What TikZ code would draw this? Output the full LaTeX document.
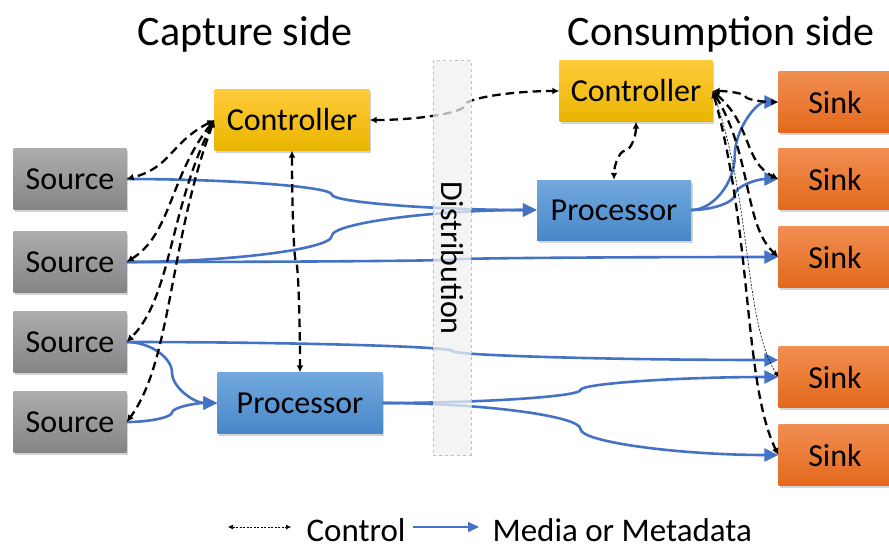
\documentclass[tikz,border=0pt]{standalone}
\usepackage{fontspec}
\setmainfont{Carlito}
\usetikzlibrary{arrows.meta,calc,shadows}

\definecolor{srctop}{HTML}{ADADAD}
\definecolor{srcbot}{HTML}{858585}
\definecolor{ctltop}{HTML}{FFCB3A}
\definecolor{ctlbot}{HTML}{E9B500}
\definecolor{proctop}{HTML}{72A9DE}
\definecolor{procbot}{HTML}{4787C8}
\definecolor{sinktop}{HTML}{F18E52}
\definecolor{sinkbot}{HTML}{E3691B}
\definecolor{medialine}{HTML}{4472C4}

% office style curved connectors (kink at the midpoint)
\tikzset{
  curveh/.style={to path={let \p1=(\tikztostart), \p2=(\tikztotarget) in
    .. controls ({0.75*\x1+0.25*\x2},\y1) and ({0.5*\x1+0.5*\x2},{0.75*\y1+0.25*\y2})
    .. ({0.5*\x1+0.5*\x2},{0.5*\y1+0.5*\y2})
    .. controls ({0.5*\x1+0.5*\x2},{0.25*\y1+0.75*\y2}) and ({0.25*\x1+0.75*\x2},\y2)
    .. (\tikztotarget)}},
  curvev/.style={to path={let \p1=(\tikztostart), \p2=(\tikztotarget) in
    .. controls (\x1,{0.75*\y1+0.25*\y2}) and ({0.75*\x1+0.25*\x2},{0.5*\y1+0.5*\y2})
    .. ({0.5*\x1+0.5*\x2},{0.5*\y1+0.5*\y2})
    .. controls ({0.25*\x1+0.75*\x2},{0.5*\y1+0.5*\y2}) and (\x2,{0.25*\y1+0.75*\y2})
    .. (\tikztotarget)}},
  % control links fanning out of a controller
  fanleft/.style={to path={let \p1=(\tikztostart), \p2=(\tikztotarget) in
    .. controls ({\x1-45pt},{\y1+0.4*(\y2-\y1)}) and ({\x2+45pt},{\y2-0.2*(\y2-\y1)})
    .. (\tikztotarget)}},
  fanright/.style={to path={let \p1=(\tikztostart), \p2=(\tikztotarget) in
    .. controls ({\x1+40pt},{\y1+0.4*(\y2-\y1)}) and ({\x2-35pt},{\y2-0.2*(\y2-\y1)})
    .. (\tikztotarget)}}
}

\begin{document}
\begin{tikzpicture}[x=1pt, y=-1pt,
    box/.style={minimum height=61pt, inner sep=0pt, font=\fontsize{32}{38}\selectfont,
      drop shadow={shadow xshift=1.5pt, shadow yshift=-2.5pt, opacity=0.35}},
    srcbox/.style={box, minimum width=113pt, top color=srctop, bottom color=srcbot},
    ctlbox/.style={box, top color=ctltop, bottom color=ctlbot},
    procbox/.style={box, top color=proctop, bottom color=procbot},
    sinkbox/.style={box, minimum width=113pt, top color=sinktop, bottom color=sinkbot},
    band/.style={draw=black!25, dashed, line width=0.8pt, fill=black!6, fill opacity=0.75,
      text opacity=1, font=\fontsize{32}{38}\selectfont},
    media/.style={draw=medialine, line width=2.6pt, -{Triangle[length=14pt,width=13pt]}},
    control/.style={line width=2.3pt, dash pattern=on 8.5pt off 5pt,
      {Latex[length=7pt,width=7pt]}-{Latex[length=7pt,width=7pt]}},
    thinctl/.style={line width=0.6pt, dash pattern=on 2pt off 1.5pt,
      {Latex[length=5pt,width=5pt]}-{Latex[length=5pt,width=5pt]}},
    titletext/.style={font=\fontsize{42}{50}\selectfont, anchor=base},
    legtext/.style={font=\fontsize{33}{40}\selectfont, anchor=base west}]
  \useasboundingbox (0,0) rectangle (889,547);

  \node[titletext] (captitle) at (245,45) {Capture side};
  \node[titletext] (contitle) at (721,45) {Consumption side};

  % capture side
  \node[srcbox] (s1) at (70,179) {Source};
  \node[srcbox] (s2) at (70,262) {Source};
  \node[srcbox] (s3) at (70,342) {Source};
  \node[srcbox] (s4) at (70,422) {Source};
  \node[ctlbox, minimum width=155pt] (lc) at (292,120) {Controller};
  \node[procbox, minimum width=165pt] (lp) at (300,403) {Processor};

  % consumption side
  \node[ctlbox, minimum width=153pt] (rc) at (636,91) {Controller};
  \node[procbox, minimum width=154pt, minimum height=60pt] (rp) at (614,210) {Processor};
  \foreach \y [count=\k] in {102,179,257,377,455}
    \node[sinkbox] (k\k) at (835,\y) {Sink};

  % media or metadata
  \draw[media] (s1.east) to[curveh] (rp.west);
  \draw[media] (s2.east) to[curveh] (rp.west);
  \draw[media] (s2.east) to[curveh] (k3.west);
  \draw[media] (s3.east) to[curveh] ([yshift=17pt]k4.west);
  \draw[media] (s3.east) to[curveh] (lp.west);
  \draw[media] (s4.east) to[curveh] (lp.west);
  \draw[media] (lp.east) to[curveh] (k4.west);
  \draw[media] (lp.east) to[curveh] (k5.west);
  \draw[media] (rp.east) to[curveh] (k1.west);
  \draw[media] (rp.east) to[curveh] (k2.west);

  % control
  \foreach \s in {s1,s2,s3,s4}
    \draw[control] (lc.west) to[fanleft] (\s.east);
  \draw[control] (lc.south) to[curvev] (lp.north);
  \draw[control] (lc.east) to[curveh] (rc.west);
  \draw[control] (rc.south) to[curvev] (rp.north);
  \draw[control] (rc.east) to[curveh] (k1.west);
  \foreach \k in {k2,k3,k5}
    \draw[control] (rc.east) to[fanright] (\k.west);
  \draw[thinctl] (rc.east) to[fanright] (k4.west);

  \node[band, rotate=-90, minimum width=395pt, minimum height=38pt] (dist) at (452,258) {Distribution};

  % legend
  \node[legtext] (ctllab) at (303,541) {Control};
  \node[legtext] (medlab) at (489,541) {Media or Metadata};
  \coordinate (ctlA) at (228,527);
  \coordinate (ctlB) at (291,527);
  \coordinate (medA) at (413,527);
  \coordinate (medB) at (479,527);
  \draw[thinctl] (ctlA) -- (ctlB);
  \draw[draw=medialine, line width=2pt, -{Triangle[length=11pt,width=10pt]}] (medA) -- (medB);
\end{tikzpicture}
\end{document}
